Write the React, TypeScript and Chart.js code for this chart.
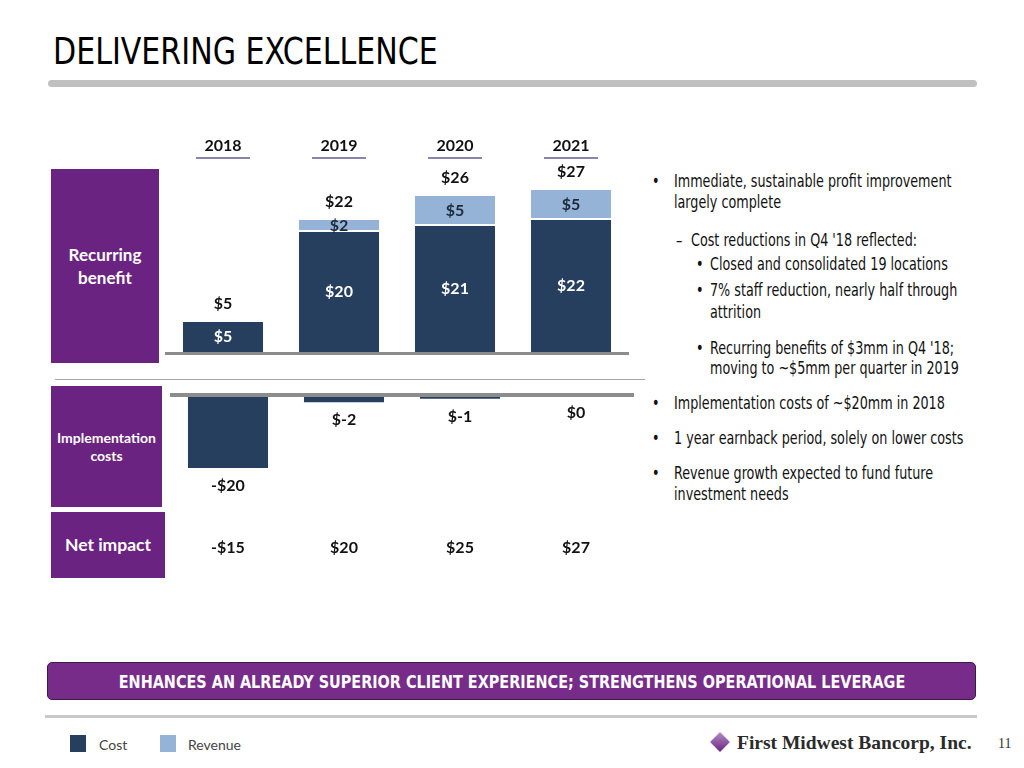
import React, { useEffect, useRef } from "react";
import { Chart, registerables } from "chart.js";

Chart.register(...registerables);

// ---- data ----
const years = ["2018", "2019", "2020", "2021"];
const seriesNames = ["Cost", "Revenue"];
const costBenefit = [5, 20, 21, 22];
const revenueBenefit = [0, 2, 5, 5];
const implementationCosts = [-20, -2, -1, 0];
const implementationLabels = ["-$20", "$-2", "$-1", "$0"];
const netImpactLabels = ["-$15", "$20", "$25", "$27"];

const NAVY = "#263f5f";
const LIGHT = "#95b3d7";
const PURPLE = "#6b2381";
const NARROW = '"Liberation Sans Narrow", "Arial Narrow", "DejaVu Sans Condensed", sans-serif';
const CAL = 'Lato, "Open Sans", sans-serif';
const SERIF = '"Liberation Serif", "DejaVu Serif", serif';

const upperPlugin = {
  id: "upperLabels",
  afterDatasetsDraw(chart: any) {
    const ctx = chart.ctx;
    const area = chart.chartArea;
    const y0 = chart.scales.y.getPixelForValue(0);
    ctx.save();
    ctx.strokeStyle = "#8c8c8c";
    ctx.lineWidth = 3;
    ctx.beginPath();
    ctx.moveTo(area.left, y0 + 1.5);
    ctx.lineTo(area.right, y0 + 1.5);
    ctx.stroke();

    const xs = chart.scales.x;
    ctx.strokeStyle = "#8f82a8";
    ctx.lineWidth = 2;
    years.forEach((_, i) => {
      const x = xs.getPixelForTick(i);
      ctx.beginPath();
      ctx.moveTo(x - 27, area.top - 2);
      ctx.lineTo(x + 27, area.top - 2);
      ctx.stroke();
    });

    const m0 = chart.getDatasetMeta(0);
    const m1 = chart.getDatasetMeta(1);
    ctx.font = `bold 16px ${CAL}`;
    ctx.textAlign = "center";
    ctx.textBaseline = "middle";
    years.forEach((_, i) => {
      const c = m0.data[i];
      ctx.fillStyle = "#ffffff";
      ctx.fillText("$" + costBenefit[i], c.x, (c.y + c.base) / 2);
      let top = c.y;
      if (revenueBenefit[i] > 0) {
        const r = m1.data[i];
        ctx.fillStyle = "#1c2a3c";
        ctx.fillText("$" + revenueBenefit[i], r.x, (r.y + r.base) / 2);
        top = r.y;
      }
      ctx.fillStyle = "#111111";
      ctx.fillText("$" + (costBenefit[i] + revenueBenefit[i]), c.x, top - 18);
    });
    ctx.restore();
  },
};

const lowerPlugin = {
  id: "lowerLabels",
  afterDatasetsDraw(chart: any) {
    const ctx = chart.ctx;
    const area = chart.chartArea;
    const y0 = chart.scales.y.getPixelForValue(0);
    ctx.save();
    ctx.strokeStyle = "#8c8c8c";
    ctx.lineWidth = 4;
    ctx.beginPath();
    ctx.moveTo(area.left, y0);
    ctx.lineTo(area.right, y0);
    ctx.stroke();

    const m0 = chart.getDatasetMeta(0);
    ctx.font = `bold 16px ${CAL}`;
    ctx.textAlign = "center";
    ctx.textBaseline = "middle";
    ctx.fillStyle = "#111111";
    years.forEach((_, i) => {
      const el = m0.data[i];
      ctx.fillText(implementationLabels[i], el.x, el.y + 18);
      ctx.fillText(netImpactLabels[i], el.x, area.bottom + 58);
    });
    ctx.restore();
  },
};

function UpperChart() {
  const ref = useRef<HTMLCanvasElement>(null);
  useEffect(() => {
    const chart = new Chart(ref.current as HTMLCanvasElement, {
      type: "bar",
      data: {
        labels: years,
        datasets: [
          {
            label: seriesNames[0],
            data: costBenefit,
            backgroundColor: NAVY,
            barPercentage: 0.69,
            categoryPercentage: 1,
          },
          {
            label: seriesNames[1],
            data: revenueBenefit,
            backgroundColor: LIGHT,
            borderColor: "#ffffff",
            borderWidth: { top: 0, left: 0, right: 0, bottom: 2 },
            borderSkipped: false,
            barPercentage: 0.69,
            categoryPercentage: 1,
          },
        ],
      },
      options: {
        animation: false,
        responsive: false,
        maintainAspectRatio: false,
        layout: { padding: { top: 0, bottom: 6, left: 0, right: 0 } },
        plugins: { legend: { display: false }, tooltip: { enabled: false } },
        scales: {
          x: {
            stacked: true,
            position: "top",
            grid: { display: false, drawTicks: false },
            border: { display: false },
            ticks: { font: { family: CAL, size: 16, weight: "bold" }, color: "#111", padding: 5 },
            afterFit: (s: any) => {
              s.height = 30;
            },
          },
          y: { stacked: true, display: false, min: 0, max: 32 },
        },
      },
      plugins: [upperPlugin],
    } as any);
    return () => chart.destroy();
  }, []);
  return (
    <canvas
      ref={ref}
      width={464}
      height={228}
      style={{ position: "absolute", left: 165, top: 130, width: 464, height: 228 }}
    />
  );
}

function LowerChart() {
  const ref = useRef<HTMLCanvasElement>(null);
  useEffect(() => {
    const chart = new Chart(ref.current as HTMLCanvasElement, {
      type: "bar",
      data: {
        labels: years,
        datasets: [
          {
            label: seriesNames[0],
            data: implementationCosts,
            backgroundColor: NAVY,
            barPercentage: 0.69,
            categoryPercentage: 1,
          },
        ],
      },
      options: {
        animation: false,
        responsive: false,
        maintainAspectRatio: false,
        layout: { padding: { top: 10, bottom: 75, left: 0, right: 0 } },
        plugins: { legend: { display: false }, tooltip: { enabled: false } },
        scales: {
          x: { display: false },
          y: { display: false, min: -26, max: 0 },
        },
      },
      plugins: [lowerPlugin],
    } as any);
    return () => chart.destroy();
  }, []);
  return (
    <canvas
      ref={ref}
      width={464}
      height={180}
      style={{ position: "absolute", left: 170, top: 385, width: 464, height: 180 }}
    />
  );
}

function T(props: {
  x: number;
  y: number;
  lh?: number;
  size?: number;
  font?: string;
  weight?: any;
  color?: string;
  sx?: number;
  children: any;
}) {
  const lh = props.lh ?? 21;
  const font = props.font ?? NARROW;
  const sx = props.sx ?? (font === NARROW ? 0.81 : 1);
  return (
    <div
      style={{
        position: "absolute",
        left: props.x,
        top: props.y - lh / 2,
        lineHeight: lh + "px",
        fontSize: props.size ?? 17.5,
        fontFamily: font,
        fontWeight: props.weight ?? "normal",
        color: props.color ?? "#111",
        whiteSpace: "nowrap",
        transform: `scaleX(${sx})`,
        transformOrigin: "left center",
      }}
    >
      {props.children}
    </div>
  );
}

function Box(props: { x: number; y: number; w: number; h: number; size: number; lh: number; children: any }) {
  return (
    <div
      style={{
        position: "absolute",
        left: props.x,
        top: props.y,
        width: props.w,
        height: props.h,
        background: PURPLE,
        color: "#fff",
        fontFamily: CAL,
        fontWeight: "bold",
        fontSize: props.size,
        lineHeight: props.lh + "px",
        display: "flex",
        alignItems: "center",
        justifyContent: "center",
        textAlign: "center",
      }}
    >
      <div>{props.children}</div>
    </div>
  );
}

export default function App() {
  return (
    <div
      style={{
        position: "absolute",
        left: 0,
        top: 0,
        width: 1024,
        height: 768,
        background: "#fff",
        overflow: "hidden",
      }}
    >
      <div
        style={{
          position: "absolute",
          left: 53,
          top: 32,
          fontFamily: NARROW,
          fontSize: 38,
          lineHeight: "38px",
          color: "#000",
          whiteSpace: "nowrap",
          transform: "scaleX(0.88)",
          transformOrigin: "left center",
        }}
      >
        DELIVERING EXCELLENCE
      </div>
      <div
        style={{ position: "absolute", left: 48, top: 80, width: 929, height: 7, borderRadius: 4, background: "#c0c0c0" }}
      />

      <Box x={51} y={169} w={108} h={194} size={17} lh={23}>
        Recurring
        <br />
        benefit
      </Box>
      <Box x={51} y={386} w={111} h={121} size={14} lh={18}>
        Implementation
        <br />
        costs
      </Box>
      <Box x={51} y={512} w={114} h={66} size={17.5} lh={22}>
        Net impact
      </Box>

      <div style={{ position: "absolute", left: 55, top: 379, width: 590, height: 1, background: "#a6a6a6" }} />

      <UpperChart />
      <LowerChart />

      <T x={652} y={181}>•</T>
      <T x={674} y={181}>Immediate, sustainable profit improvement</T>
      <T x={674} y={202}>largely complete</T>
      <T x={676} y={240}>–</T>
      <T x={691} y={240}>Cost reductions in Q4 '18 reflected:</T>
      <T x={696} y={264}>•</T>
      <T x={710} y={264}>Closed and consolidated 19 locations</T>
      <T x={696} y={290}>•</T>
      <T x={710} y={290}>7% staff reduction, nearly half through</T>
      <T x={710} y={312}>attrition</T>
      <T x={696} y={348}>•</T>
      <T x={710} y={348}>Recurring benefits of $3mm in Q4 '18;</T>
      <T x={710} y={368}>moving to ~$5mm per quarter in 2019</T>
      <T x={652} y={403}>•</T>
      <T x={674} y={403}>Implementation costs of ~$20mm in 2018</T>
      <T x={652} y={438}>•</T>
      <T x={674} y={438}>1 year earnback period, solely on lower costs</T>
      <T x={652} y={473}>•</T>
      <T x={674} y={473}>Revenue growth expected to fund future</T>
      <T x={674} y={494}>investment needs</T>

      <div
        style={{
          position: "absolute",
          left: 47,
          top: 662,
          width: 927,
          height: 36,
          background: "#772c8a",
          border: "1.5px solid #3a1c45",
          borderRadius: 5,
        }}
      />
      <div
        style={{
          position: "absolute",
          left: 47,
          top: 662,
          width: 930,
          height: 39,
          color: "#fff",
          fontFamily: NARROW,
          fontWeight: "bold",
          fontSize: 18,
          lineHeight: "39px",
          textAlign: "center",
          whiteSpace: "nowrap",
          transform: "scaleX(0.89)",
          transformOrigin: "center center",
        }}
      >
        ENHANCES AN ALREADY SUPERIOR CLIENT EXPERIENCE; STRENGTHENS OPERATIONAL LEVERAGE
      </div>
      <div style={{ position: "absolute", left: 45, top: 715, width: 932, height: 3, background: "#c8c8c8" }} />

      <div style={{ position: "absolute", left: 70, top: 735, width: 16, height: 17, background: NAVY }} />
      <T x={99} y={744} size={14} font={CAL} color="#444">
        {seriesNames[0]}
      </T>
      <div style={{ position: "absolute", left: 160, top: 735, width: 16, height: 17, background: LIGHT }} />
      <T x={188} y={744} size={14} font={CAL} color="#444">
        {seriesNames[1]}
      </T>

      <div
        style={{
          position: "absolute",
          left: 713,
          top: 735,
          width: 14,
          height: 14,
          transform: "rotate(45deg)",
          background: "linear-gradient(135deg, #b58cc8, #6b2381)",
        }}
      />
      <T x={737} y={742} size={19.5} font={SERIF} weight="bold" color="#2b2b2b">
        First Midwest Bancorp, Inc.
      </T>
      <T x={998} y={743} size={14} font={SERIF} color="#333">
        11
      </T>
    </div>
  );
}
